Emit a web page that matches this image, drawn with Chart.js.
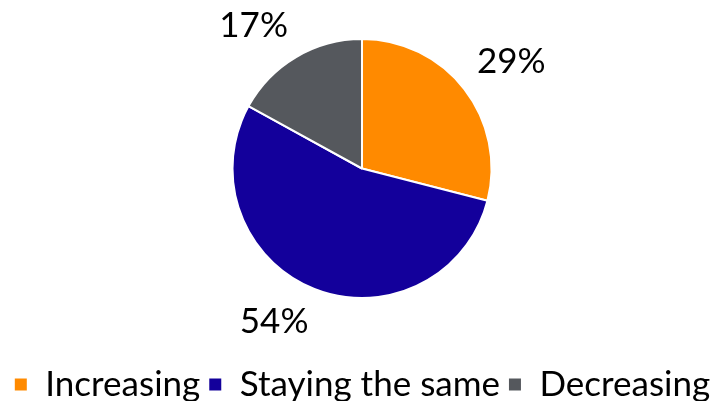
<!DOCTYPE html>
<html>
<head>
<meta charset="utf-8">
<script src="https://cdn.jsdelivr.net/npm/chart.js@4"></script>
<style>
  html, body { margin: 0; padding: 0; background: #fff; }
  #wrap { width: 724px; height: 401px; }
</style>
</head>
<body>
<div id="wrap"><canvas id="pie" width="724" height="401"></canvas></div>
<script>
const labels = ['Increasing', 'Staying the same', 'Decreasing'];
const values = [29, 54, 17];
const colors = ['#FF8A00', '#13009B', '#55585D'];

// draws the percentage next to each slice, outside the pie
const outsideLabels = {
    id: 'outsideLabels',
    afterDatasetsDraw(chart) {
        const ctx = chart.ctx;
        const meta = chart.getDatasetMeta(0);
        ctx.save();
        ctx.font = '35px Lato';
        ctx.fillStyle = '#000';
        meta.data.forEach((arc, i) => {
            const p = arc.getProps(['x', 'y', 'startAngle', 'endAngle', 'outerRadius'], true);
            const mid = (p.startAngle + p.endAngle) / 2;
            const r = p.outerRadius + 16;
            const cx = Math.cos(mid), sy = Math.sin(mid);
            ctx.textAlign = cx >= 0 ? 'left' : 'right';
            ctx.textBaseline = sy >= 0 ? 'top' : 'bottom';
            ctx.fillText(values[i] + '%', p.x + r * cx, p.y + r * sy);
        });
        ctx.restore();
    }
};

const config = {
    type: 'pie',
    data: {
        labels: labels,
        datasets: [{
            data: values,
            backgroundColor: colors,
            borderColor: '#fff',
            borderWidth: 2
        }]
    },
    options: {
        responsive: false,
        animation: false,
        layout: {
            padding: { top: 38, bottom: -11 }
        },
        plugins: {
            legend: {
                position: 'bottom',
                // empty title only used as spacer between pie and legend row
                title: {
                    display: true,
                    text: ' ',
                    font: { size: 1, lineHeight: 1 },
                    padding: 29.5
                },
                labels: {
                    font: { family: 'Lato', size: 35, lineHeight: 1 },
                    color: '#000',
                    boxWidth: 14,
                    boxHeight: 14,
                    padding: 8
                }
            },
            tooltip: { enabled: false }
        }
    },
    plugins: [outsideLabels]
};

const myChart = new Chart(document.getElementById('pie'), config);
</script>
</body>
</html>
